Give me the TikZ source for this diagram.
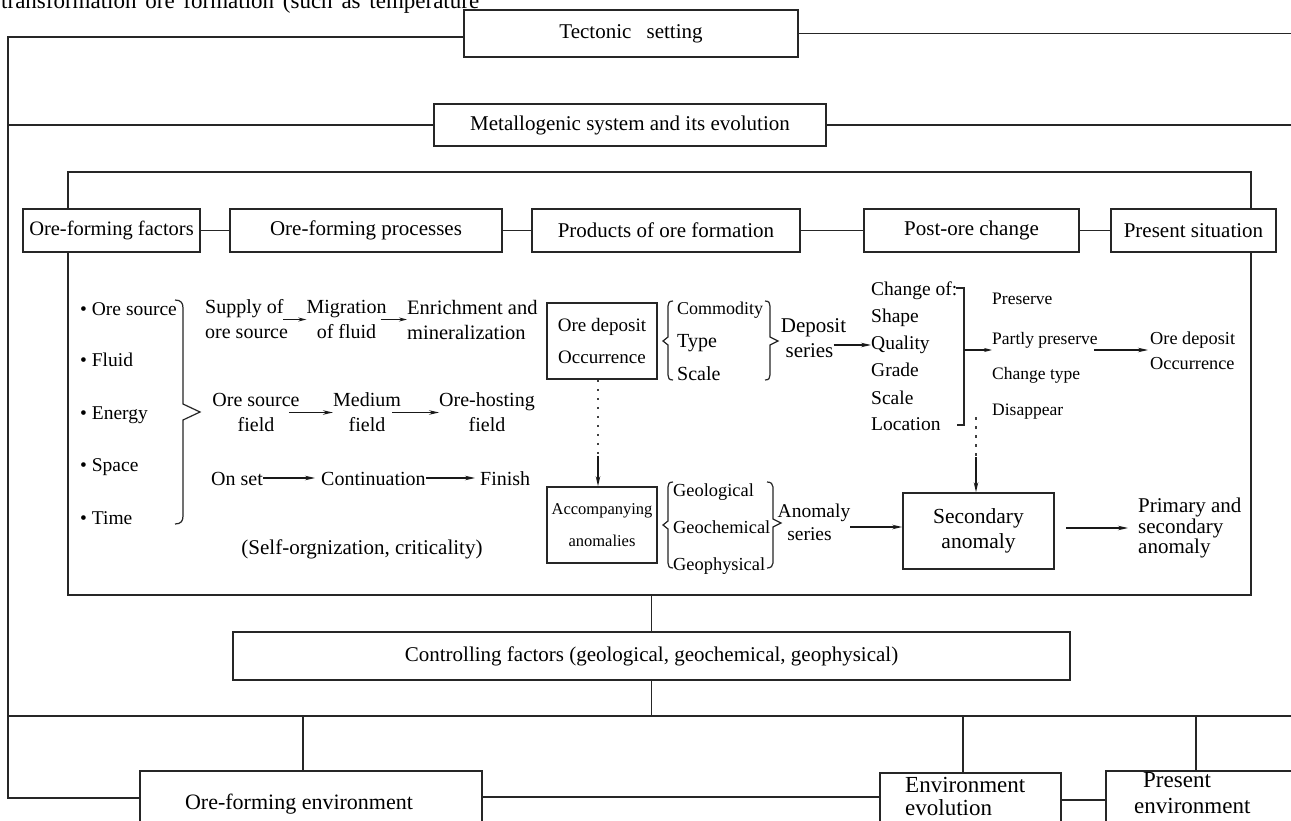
\documentclass[tikz,border=0pt]{standalone}
\usepackage{fontspec}
\setmainfont{Liberation Serif}
\usetikzlibrary{arrows.meta}
\newcommand\myfs[2]{\fontsize{#1}{#2}\selectfont}
\tikzset{
  ln/.style={line width=1.6pt, draw=black!85},
  bx/.style={draw=black!85, line width=1.6pt, fill=white, inner sep=0pt, align=center, text=black},
  arr/.style={line width=1.2pt, draw=black!90, -{Stealth[length=10pt,width=4.5pt]}},
  sarr/.style={line width=1.2pt, draw=black!90, -{Stealth[length=8pt,width=4pt]}},
  dots/.style={line width=1.9pt, draw=black!75, dash pattern=on 2.5pt off 6.5pt},
  brc/.style={line width=1.2pt, draw=black!85},
  txt/.style={inner sep=0pt, text=black},
  sl/.style={txt, text height=14pt, text depth=0pt},
}
\begin{document}
\begin{tikzpicture}[x=1pt,y=-1pt]
\useasboundingbox (0,0) rectangle (1291,821);
\fill[white] (0,0) rectangle (1291,821);

% cut-off running text at the top
\node[txt, anchor=base west, font=\myfs{23}{26}] (cut) at (1,9) {\makebox[478pt][s]{transformation ore formation (such as temperature}};

% inner frame
\node[draw=black!85, line width=1.6pt, minimum width=1183pt, minimum height=423pt, inner sep=0pt] (inner) at (659.5,383.5) {};

% top boxes
\node[bx, minimum width=334pt, minimum height=47pt, font=\myfs{21}{25}] (tect) at (631,33.5) {Tectonic\hspace{10pt} setting};
\node[bx, minimum width=392pt, minimum height=42pt, font=\myfs{21}{25}] (metal) at (630,125) {Metallogenic system and its evolution};

% row of stage boxes
\node[bx, minimum width=177pt, minimum height=42.5pt, font=\myfs{20.5}{25}] (fac) at (111.5,230.5) {Ore-forming factors};
\node[bx, minimum width=271.5pt, minimum height=42.5pt, font=\myfs{21}{25}] (proc) at (366,230.5) {Ore-forming processes};
\node[bx, minimum width=268pt, minimum height=42.5pt, font=\myfs{21}{25}] (prod) at (666,230.5) {Products of ore formation};
\node[bx, minimum width=215pt, minimum height=42.5pt, font=\myfs{21}{25}] (post) at (971.5,230.5) {Post-ore change};
\node[bx, minimum width=165pt, minimum height=42.5pt, font=\myfs{21}{25}] (pres) at (1193.5,230.5) {Present situation};
\draw[ln] (fac) -- (proc);
\draw[ln] (proc) -- (prod);
\draw[ln] (prod) -- (post);
\draw[ln] (post) -- (pres);

% factors
\node[sl, anchor=west, font=\myfs{19.5}{24}] (b1) at (80,308) {\textbullet\ Ore source};
\node[sl, anchor=west, font=\myfs{19.5}{24}] (b2) at (80,359) {\textbullet\ Fluid};
\node[sl, anchor=west, font=\myfs{19.5}{24}] (b3) at (80,412) {\textbullet\ Energy};
\node[sl, anchor=west, font=\myfs{19.5}{24}] (b4) at (80,464) {\textbullet\ Space};
\node[sl, anchor=west, font=\myfs{19.5}{24}] (b5) at (80,517) {\textbullet\ Time};
\draw[brc] (175,300) .. controls (181,300) and (183,303) .. (183,308) -- (183,404) -- (200,412) -- (183,420) -- (183,516) .. controls (183,521) and (181,524) .. (175,524);

% processes
\node[txt, align=left, anchor=west, font=\myfs{20}{25}] (sup) at (205,319.5) {Supply of\\ore source};
\node[txt, align=center, font=\myfs{20}{25}] (mig) at (346.5,319.5) {Migration\\of fluid};
\node[txt, align=left, anchor=west, font=\myfs{20.5}{25}] (enr) at (407,319.5) {Enrichment and\\mineralization};
\draw[sarr] ([xshift=-5pt]sup.east) -- (mig.west);
\draw[sarr] ([xshift=-6pt]mig.east) -- (enr.west);

\node[txt, align=center, font=\myfs{20}{25}] (osf) at (256,412.5) {Ore source\\field};
\node[txt, align=center, font=\myfs{20}{25}] (med) at (367,412.5) {Medium\\field};
\node[txt, align=center, font=\myfs{20}{25}] (oh) at (487,412.5) {Ore-hosting\\field};
\draw[arr] ([xshift=-11pt]osf.east) -- (med.west);
\draw[arr] ([xshift=-9pt]med.east) -- (oh.west);

\node[sl, anchor=west, font=\myfs{20}{25}] (ons) at (211,478) {On set};
\node[sl, anchor=west, font=\myfs{20}{25}] (cont) at (321,478) {Continuation};
\node[sl, anchor=west, font=\myfs{20}{25}] (fin) at (480,478) {Finish};
\draw[arr, shorten >=6pt] (ons.east) -- (cont.west);
\draw[arr, shorten >=5pt] (cont.east) -- (fin.west);

\node[sl, font=\myfs{21}{25}] (self) at (362,547) {(Self-orgnization, criticality)};

% products
\node[bx, minimum width=110pt, minimum height=76pt, font=\myfs{19}{32}] (od) at (602,341) {Ore deposit\\Occurrence};
\node[bx, minimum width=110pt, minimum height=76pt, font=\myfs{16.5}{32}] (acc) at (602,525) {Accompanying\\anomalies};
\coordinate (d1) at (598,456);
\draw[dots] ([xshift=-4pt]od.south) -- (d1);
\draw[arr] (d1) -- ([xshift=-4pt]acc.north);

% braces around Commodity / Type / Scale
\draw[brc] (673,301) .. controls (669,301) and (668,303) .. (668,306) -- (668,337) -- (663,341) -- (668,345) -- (668,375) .. controls (668,378) and (669,380) .. (673,380);
\node[sl, anchor=west, font=\myfs{18}{24}] (com) at (677,307) {Commodity};
\node[sl, anchor=west, font=\myfs{20}{24}] (typ) at (677,340) {Type};
\node[sl, anchor=west, font=\myfs{20}{24}] (sca) at (677,373) {Scale};
\draw[brc] (765,301) .. controls (769,301) and (770,303) .. (770,306) -- (770,337) -- (778,341) -- (770,345) -- (770,375) .. controls (770,378) and (769,380) .. (765,380);
\node[sl, font=\myfs{21}{25}] (dep) at (813.5,325) {Deposit};
\node[sl, font=\myfs{21}{25}] (ser) at (809.5,350) {series};

% braces around Geological / Geochemical / Geophysical
\draw[brc] (673,482) .. controls (669,482) and (668,484) .. (668,487) -- (668,521) -- (663,525) -- (668,529) -- (668,563) .. controls (668,566) and (669,568) .. (673,568);
\node[sl, anchor=west, font=\myfs{18.4}{24}] (geol) at (673,489) {Geological};
\node[sl, anchor=west, font=\myfs{18.4}{24}] (geoc) at (673,526) {Geochemical};
\node[sl, anchor=west, font=\myfs{18.4}{24}] (geop) at (673,563) {Geophysical};
\draw[brc] (767,482) .. controls (771,482) and (773,484) .. (773,487) -- (773,519) -- (781,523) -- (773,527) -- (773,563) .. controls (773,566) and (771,568) .. (767,568);
\node[sl, font=\myfs{19.5}{25}] (ano) at (814,510) {Anomaly};
\node[sl, font=\myfs{19.5}{25}] (aser) at (809.5,533) {series};

% post-ore change
\node[sl, anchor=west, font=\myfs{19.5}{24}] (chg) at (871,288) {Change of:};
\node[sl, anchor=west, font=\myfs{19.5}{24}] (shp) at (871,315) {Shape};
\node[sl, anchor=west, font=\myfs{19.5}{24}] (qual) at (871,342) {Quality};
\node[sl, anchor=west, font=\myfs{19.5}{24}] (grd) at (871,369) {Grade};
\node[sl, anchor=west, font=\myfs{19.5}{24}] (scl) at (871,397) {Scale};
\node[sl, anchor=west, font=\myfs{19.5}{24}] (loc) at (871,423) {Location};
\draw[arr] ([yshift=5pt]ser.east) -- ([yshift=5pt]ser.east -| qual.west);
\draw[brc] (956,288) -- (964,288) -- (964,425) -- (957,425);
\coordinate (brk) at (964,350);

% present situation
\node[sl, anchor=west, font=\myfs{17.5}{22}] (pre) at (992,298) {Preserve};
\node[sl, anchor=west, font=\myfs{17.5}{22}] (pp) at (992,337) {Partly preserve};
\node[sl, anchor=west, font=\myfs{17.5}{22}] (ct) at (992,372) {Change type};
\node[sl, anchor=west, font=\myfs{17.5}{22}] (dis) at (992,408) {Disappear};
\draw[sarr] (brk) -- (brk -| pp.west);
\node[txt, align=left, anchor=west, font=\myfs{18.3}{25}] (od2) at (1150,350.5) {Ore deposit\\Occurrence};
\draw[arr] ([xshift=-4pt]pp.east |- brk) -- ([xshift=-2pt]od2.west |- brk);

\node[bx, minimum width=151pt, minimum height=76pt, font=\myfs{21.5}{25}] (sec) at (978.5,531) {Secondary\\anomaly};
\coordinate (a1) at (850,527);
\draw[arr] (a1) -- (a1 -| sec.west);
\coordinate (d2a) at (976,417);
\coordinate (d2b) at (976,457);
\draw[dots] (d2a) -- (d2b);
\draw[arr] (d2b) -- (d2b |- sec.north);
\node[txt, align=left, anchor=west, font=\myfs{21}{20.5}] (prim) at (1138,528) {Primary and\\secondary\\anomaly};
\coordinate (a2) at (1066,528);
\draw[arr] (a2) -- ([xshift=-10pt]a2 -| prim.west);

% controlling factors and environment
\node[bx, minimum width=837pt, minimum height=48pt, font=\myfs{21}{25}] (ctrl) at (651.5,656) {Controlling factors (geological, geochemical, geophysical)};
\draw[ln] (ctrl.north |- inner.south) -- (ctrl.north);
\coordinate (hub) at (651.5,716);
\draw[ln] (ctrl.south) -- (hub);

\node[bx, minimum width=342pt, minimum height=70pt, anchor=north, font=\myfs{22}{25}] (oenv) at (311,770) {\raisebox{8pt}{Ore-forming environment}\hspace{24pt}};
\node[bx, minimum width=181pt, minimum height=70pt, anchor=north west, font=\myfs{23}{23}] (eevo) at (879,772) {};
\node[txt, align=left, anchor=north west, font=\myfs{23}{23}] (eevot) at (905,777) {Environment\\evolution};
\node[bx, minimum width=200pt, minimum height=70pt, anchor=north west, font=\myfs{23}{26}] (penv) at (1105,770) {};
\node[txt, align=left, anchor=north west, font=\myfs{23}{26}] (penvt) at (1134,772) {\hspace{9pt}Present\\environment};

\draw[ln] (8,716) -- (1291,716);
\coordinate (v1) at (303,716);
\coordinate (v2) at (963,716);
\coordinate (v3) at (1196,716);
\draw[ln] (v1) -- (v1 |- oenv.north);
\draw[ln] (v2) -- (v2 |- eevo.north);
\draw[ln] (v3) -- (v3 |- penv.north);
\coordinate (e1) at (482,797);
\draw[ln] (e1) -- (e1 -| eevo.west);
\coordinate (e2) at (1060,800);
\draw[ln] (e2) -- (e2 -| penv.west);

% outer frame lines
\draw[ln] ([yshift=-3.5pt]tect.west) -- (8,37) -- (8,798) -- (8,798 -| oenv.west);
\draw[ln] (tect.east) -- (1291,33.5);
\draw[ln] (8,125) -- (metal.west);
\draw[ln] (metal.east) -- (1291,125);
\end{tikzpicture}
\end{document}
